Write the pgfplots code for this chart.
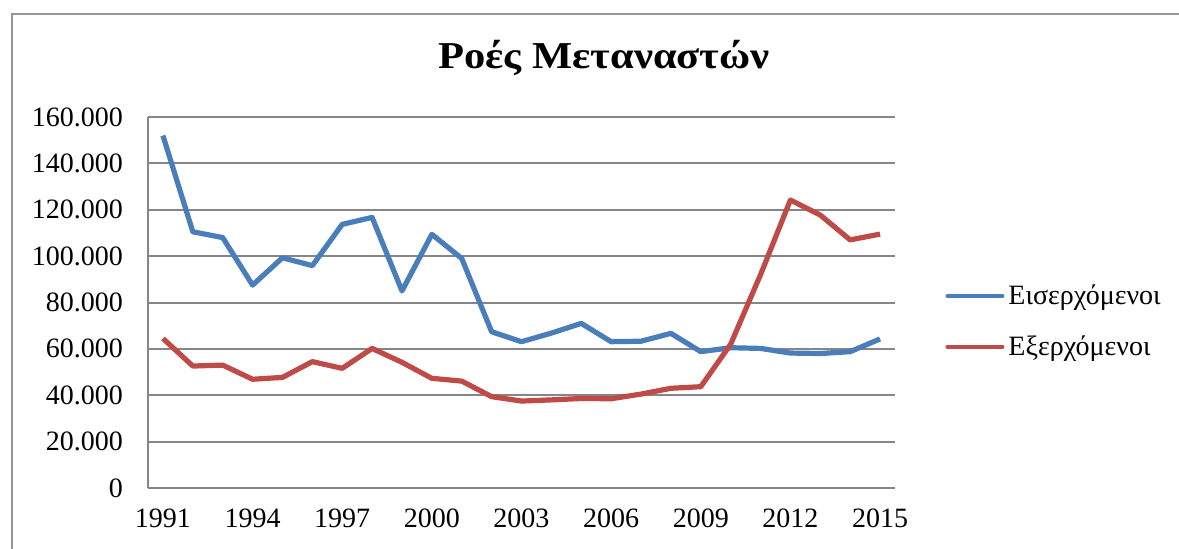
\documentclass[border=0pt]{standalone}
\usepackage{fontspec}
\setmainfont{Liberation Serif}
\newfontfamily\titlefont[FakeStretch=1.12]{Liberation Serif}
\usepackage{pgfplots}
\pgfplotsset{compat=1.18}
\definecolor{cblue}{RGB}{74,126,187}
\definecolor{cred}{RGB}{190,75,72}
\definecolor{cgrid}{RGB}{134,134,134}
\definecolor{cframe}{RGB}{150,150,150}
\begin{document}
\begin{tikzpicture}
\path[use as bounding box] (0pt,0pt) rectangle (589.5pt,274pt);
\draw[cframe, line width=1pt] (6pt,-10pt) -- (6pt,267pt) -- (600pt,267pt);
\node[font=\titlefont\fontsize{19}{23}\selectfont\bfseries, anchor=base] at (302pt,240pt) {Ροές Μεταναστών};
\begin{axis}[
  at={(74pt,30pt)}, anchor=south west,
  scale only axis, width=373.5pt, height=185.5pt,
  xmin=1990.5, xmax=2015.5, ymin=0, ymax=160000,
  xtick={1991,1994,...,2015}, ytick={0,20000,...,160000},
  scaled y ticks=false,
  ymajorgrids, grid style={cgrid, line width=1pt},
  axis x line*=bottom, axis y line*=left,
  axis line style={cgrid, line width=1pt, -},
  major tick length=0pt,
  tick label style={font=\fontsize{14}{16}\selectfont},
  /pgf/number format/.cd, fixed, precision=0, 1000 sep={.}, assume math mode=true,
  /pgfplots/.cd,
  x tick label style={/pgf/number format/1000 sep={}, yshift=-7pt},
  y tick label style={xshift=-9pt},
  legend style={at={(1.067,0.449)}, anchor=west, draw=none, fill=none,
    font=\fontsize{14}{16}\selectfont, row sep=10pt, inner sep=0pt},
  legend cell align=left,
  legend image code/.code={\draw[#1, line width=2pt, line cap=round] (0pt,0pt) -- (27.5pt,0pt);},
]
\addplot[cblue, line width=2.6pt, line join=round] coordinates {
(1991,152000) (1992,110500) (1993,108000) (1994,87500) (1995,99300)
(1996,95900) (1997,113700) (1998,116700) (1999,85000) (2000,109400)
(2001,99000) (2002,67400) (2003,63100) (2004,66800) (2005,71000)
(2006,63100) (2007,63300) (2008,66700) (2009,58800) (2010,60500)
(2011,60200) (2012,58200) (2013,58000) (2014,58800) (2015,64300)};
\addlegendentry{Εισερχόμενοι}
\addplot[cred, line width=2.6pt, line join=round] coordinates {
(1991,64500) (1992,52600) (1993,53000) (1994,46900) (1995,47700)
(1996,54500) (1997,51600) (1998,60200) (1999,54200) (2000,47300)
(2001,46100) (2002,39400) (2003,37500) (2004,38000) (2005,38600)
(2006,38500) (2007,40500) (2008,43000) (2009,43700) (2010,62000)
(2011,92000) (2012,124200) (2013,117700) (2014,107000) (2015,109500)};
\addlegendentry{Εξερχόμενοι}
\end{axis}
\end{tikzpicture}
\end{document}
